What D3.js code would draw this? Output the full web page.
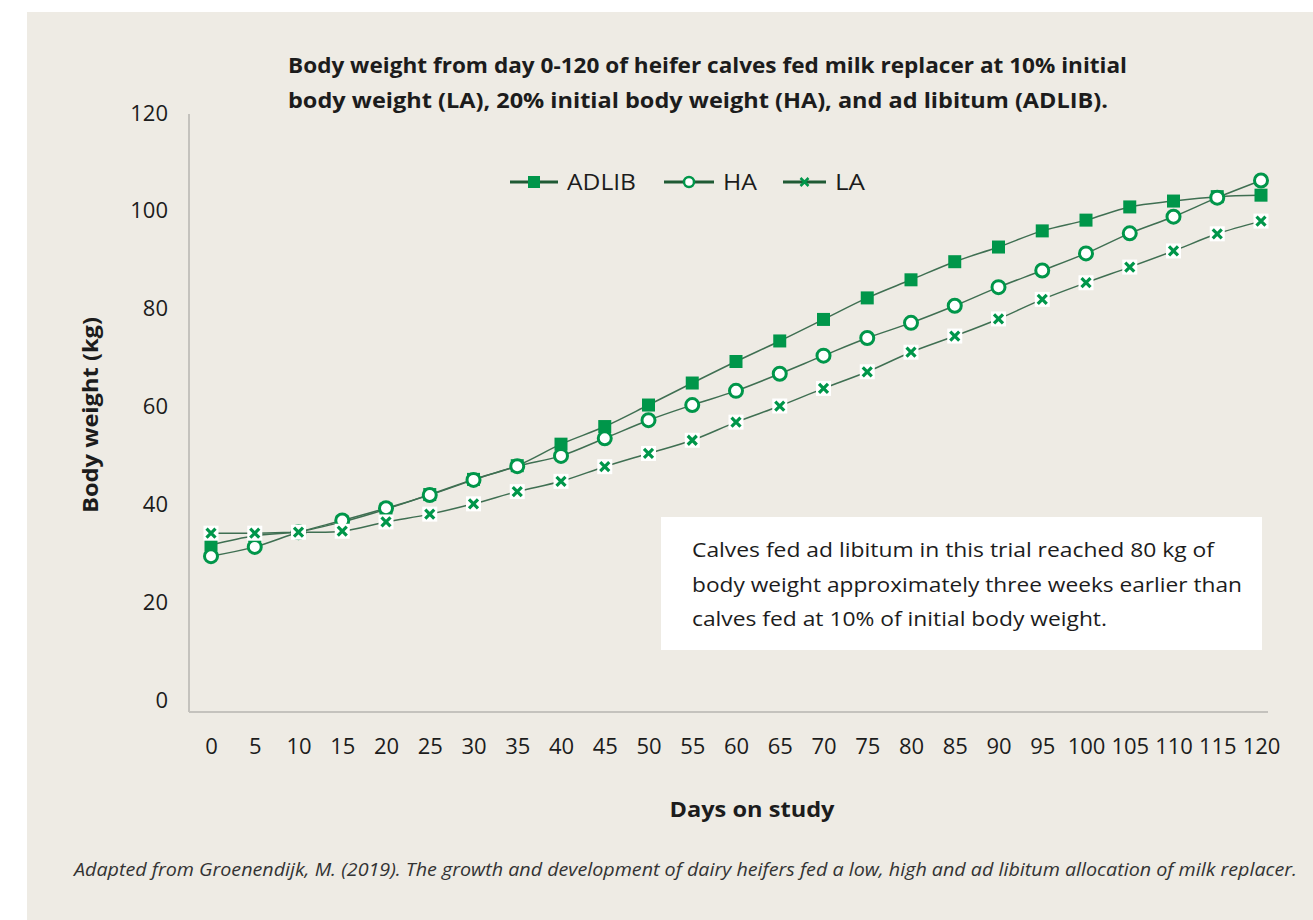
<!DOCTYPE html>
<html>
<head>
<meta charset="utf-8">
<script src="https://cdn.jsdelivr.net/npm/d3@7"></script>
<style>
  body { margin: 0; background: #ffffff; }
  svg { display: block; font-family: "Open Sans", "Lato", sans-serif; }
</style>
</head>
<body>
<svg id="chart" width="1313" height="920"></svg>
<script>
const days = [0, 5, 10, 15, 20, 25, 30, 35, 40, 45, 50, 55, 60, 65, 70, 75, 80, 85, 90, 95, 100, 105, 110, 115, 120];
const adlib = [31.7, 33.6, 34.4, 36.4, 39.0, 42.0, 45.1, 47.9, 52.3, 55.9, 60.3, 64.8, 69.2, 73.4, 77.8, 82.2, 85.9, 89.6, 92.6, 95.9, 98.1, 100.8, 102.0, 102.9, 103.2];
const ha = [29.4, 31.3, 34.3, 36.7, 39.2, 41.9, 45.0, 47.8, 49.9, 53.5, 57.2, 60.3, 63.2, 66.7, 70.4, 74.0, 77.1, 80.6, 84.4, 87.8, 91.3, 95.4, 98.8, 102.7, 106.2];
const la = [34.1, 34.1, 34.3, 34.5, 36.4, 38.0, 40.1, 42.6, 44.7, 47.7, 50.4, 53.1, 56.8, 60.1, 63.7, 67.1, 71.1, 74.4, 77.9, 81.9, 85.3, 88.5, 91.8, 95.3, 97.9];
const seriesNames = ["ADLIB", "HA", "LA"];
const yTicks = [0, 20, 40, 60, 80, 100, 120];

const titleLines = [
  "Body weight from day 0-120 of heifer calves fed milk replacer at 10% initial",
  "body weight (LA), 20% initial body weight (HA), and ad libitum (ADLIB)."
];
const noteLines = [
  "Calves fed ad libitum in this trial reached 80 kg of",
  "body weight approximately three weeks earlier than",
  "calves fed at 10% of initial body weight."
];
const source = "Adapted from Groenendijk, M. (2019). The growth and development of dairy heifers fed a low, high and ad libitum allocation of milk replacer.";

const markerGreen = "#00964a";
const lineColor = "#3f6f52";
const textColor = "#1c1c1c";

const svg = d3.select("#chart");

svg.append("rect")
  .attr("x", 27).attr("y", 12)
  .attr("width", 1313 - 27).attr("height", 920 - 12)
  .attr("fill", "#eeebe4");

const x = d3.scaleLinear().domain([0, 120]).range([211, 1261]);
const y = d3.scaleLinear().domain([0, 120]).range([700, 113]);

const axisLeftX = 189;
const axisBottomY = 712;

// axes lines
svg.append("line")
  .attr("x1", axisLeftX).attr("x2", axisLeftX)
  .attr("y1", 114).attr("y2", axisBottomY)
  .attr("stroke", "#c4c2bd").attr("stroke-width", 2);
svg.append("line")
  .attr("x1", axisLeftX).attr("x2", 1268)
  .attr("y1", axisBottomY).attr("y2", axisBottomY)
  .attr("stroke", "#c4c2bd").attr("stroke-width", 2);

const yAxis = svg.append("g")
  .attr("transform", `translate(${axisLeftX},0)`)
  .call(d3.axisLeft(y).tickValues(yTicks).tickSize(0).tickPadding(21));
yAxis.select(".domain").remove();
yAxis.selectAll("text")
  .attr("font-size", "22px")
  .attr("font-family", "Open Sans, sans-serif")
  .attr("fill", textColor);

const xAxis = svg.append("g")
  .attr("transform", `translate(0,${axisBottomY})`)
  .call(d3.axisBottom(x).tickValues(days).tickSize(0).tickPadding(26));
xAxis.select(".domain").remove();
xAxis.selectAll("text")
  .attr("font-size", "22px")
  .attr("font-family", "Open Sans, sans-serif")
  .attr("fill", textColor);

// titles
const titleWidths = [839, 820];
svg.append("g").selectAll("text")
  .data(titleLines)
  .join("text")
  .attr("x", 288)
  .attr("y", (d, i) => 73 + i * 35)
  .attr("font-size", "22px")
  .attr("font-weight", "bold")
  .attr("fill", textColor)
  .attr("textLength", (d, i) => titleWidths[i])
  .attr("lengthAdjust", "spacingAndGlyphs")
  .text(d => d);

svg.append("text")
  .attr("x", 752).attr("y", 817)
  .attr("text-anchor", "middle")
  .attr("font-size", "22px")
  .attr("font-weight", "bold")
  .attr("fill", textColor)
  .attr("textLength", 165)
  .attr("lengthAdjust", "spacingAndGlyphs")
  .text("Days on study");

svg.append("text")
  .attr("transform", "translate(98,415) rotate(-90)")
  .attr("text-anchor", "middle")
  .attr("font-size", "22px")
  .attr("font-weight", "bold")
  .attr("fill", textColor)
  .attr("textLength", 196)
  .attr("lengthAdjust", "spacingAndGlyphs")
  .text("Body weight (kg)");

// annotation box
const noteWidths = [522, 550, 415];
svg.append("rect")
  .attr("x", 661).attr("y", 517)
  .attr("width", 601).attr("height", 133)
  .attr("fill", "#ffffff");
svg.append("g").selectAll("text")
  .data(noteLines)
  .join("text")
  .attr("x", 692)
  .attr("y", (d, i) => 557 + i * 34.5)
  .attr("font-size", "20px")
  .attr("fill", textColor)
  .attr("textLength", (d, i) => noteWidths[i])
  .attr("lengthAdjust", "spacingAndGlyphs")
  .text(d => d);

svg.append("text")
  .attr("x", 74).attr("y", 876)
  .attr("font-size", "18px")
  .attr("font-style", "italic")
  .attr("fill", "#333333")
  .attr("textLength", 1223)
  .attr("lengthAdjust", "spacingAndGlyphs")
  .text(source);

// series
const series = [
  { name: seriesNames[0], values: adlib, marker: "square" },
  { name: seriesNames[1], values: ha, marker: "circle" },
  { name: seriesNames[2], values: la, marker: "cross" }
];

const line = d3.line()
  .x(d => x(d.day))
  .y(d => y(d.value))
  .curve(d3.curveCatmullRom.alpha(0.5));

function drawMarker(sel, type) {
  if (type === "square") {
    sel.append("rect")
      .attr("x", -6.5).attr("y", -6.5)
      .attr("width", 13).attr("height", 13)
      .attr("fill", markerGreen);
  } else if (type === "circle") {
    sel.append("circle")
      .attr("r", 6.5)
      .attr("fill", "#ffffff")
      .attr("stroke", markerGreen)
      .attr("stroke-width", 3);
  } else {
    sel.append("rect")
      .attr("x", -7.5).attr("y", -7.5)
      .attr("width", 15).attr("height", 15)
      .attr("fill", "#ffffff");
    sel.append("path")
      .attr("d", "M-4.5,-4.5L4.5,4.5M-4.5,4.5L4.5,-4.5")
      .attr("stroke", markerGreen)
      .attr("stroke-width", 3.2)
      .attr("fill", "none");
  }
}

series.forEach(s => {
  const pts = days.map((d, i) => ({ day: d, value: s.values[i] }));
  const g = svg.append("g");
  g.append("path")
    .datum(pts)
    .attr("d", line)
    .attr("fill", "none")
    .attr("stroke", lineColor)
    .attr("stroke-width", 1.5);
  g.selectAll(".m")
    .data(pts)
    .join("g")
    .attr("class", "m")
    .attr("transform", d => `translate(${x(d.day)},${y(d.value)})`)
    .each(function() { drawMarker(d3.select(this), s.marker); });
});

// legend
const legendItems = [
  { x1: 510, x2: 558, tx: 567, w: 69 },
  { x1: 664, x2: 714, tx: 723, w: 34 },
  { x1: 783, x2: 826, tx: 835, w: 30 }
];
series.forEach((s, i) => {
  const li = legendItems[i];
  const g = svg.append("g").attr("transform", "translate(0,182)");
  g.append("line")
    .attr("x1", li.x1).attr("x2", li.x2)
    .attr("stroke", "#1f5a34").attr("stroke-width", 3);
  const m = g.append("g").attr("transform", `translate(${(li.x1 + li.x2) / 2},0)`);
  if (s.marker === "square") {
    m.append("rect").attr("x", -6).attr("y", -6).attr("width", 12).attr("height", 12).attr("fill", markerGreen);
  } else if (s.marker === "circle") {
    m.append("circle").attr("r", 5).attr("fill", "#ffffff").attr("stroke", markerGreen).attr("stroke-width", 2.5);
  } else {
    m.append("path").attr("d", "M-4,-4L4,4M-4,4L4,-4").attr("stroke", markerGreen).attr("stroke-width", 2.5);
  }
  g.append("text")
    .attr("x", li.tx).attr("y", 8)
    .attr("font-size", "22px")
    .attr("fill", textColor)
    .attr("textLength", li.w)
    .attr("lengthAdjust", "spacingAndGlyphs")
    .text(s.name);
});
</script>
</body>
</html>
